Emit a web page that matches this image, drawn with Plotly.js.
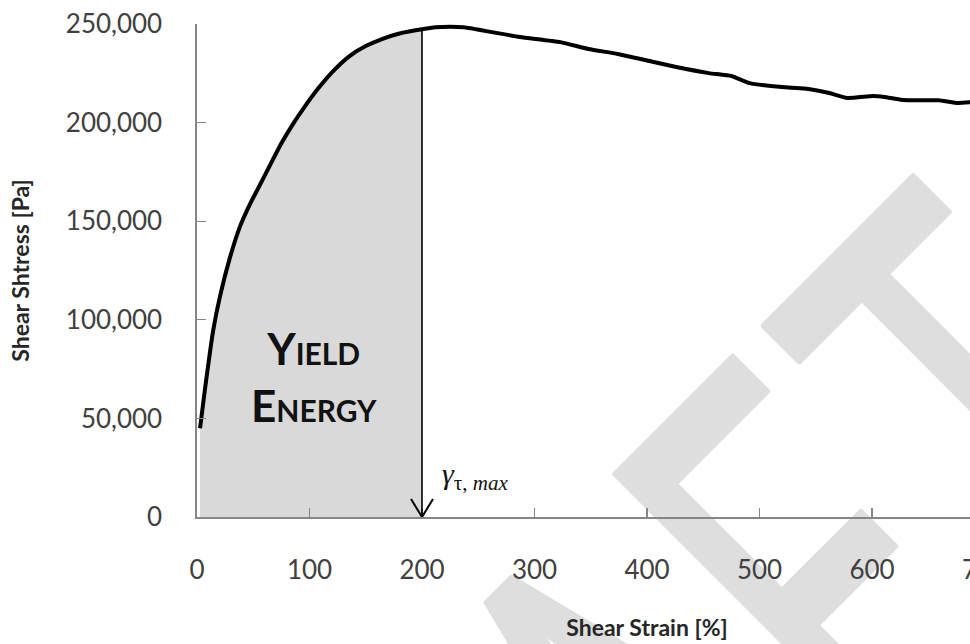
<!DOCTYPE html>
<html>
<head>
<meta charset="utf-8">
<script src="https://cdn.plot.ly/plotly-3.0.1.min.js"></script>
<style>
  html, body { margin: 0; padding: 0; background: #ffffff; overflow: hidden; }
  #wrap { position: relative; width: 970px; height: 644px; overflow: hidden; background: #ffffff; }
  #wm { position: absolute; left: 0; top: 0; }
  #chart { position: absolute; left: 0; top: 0; width: 1140px; height: 644px; }
</style>
</head>
<body>
<div id="wrap">
  <svg id="wm" width="970" height="644">
    <text id="wmText" font-family="Lato" font-size="380" fill="#dedede" text-anchor="end"
          stroke="#dedede" stroke-width="4" stroke-linejoin="round"
          transform="translate(1226,480) rotate(-45) scale(1,1.6)">DRAF<tspan dx="24">T</tspan></text>
  </svg>
  <div id="chart"></div>
</div>
<script>
// Shear strain [%] and shear stress [Pa] of the measured flow curve
const strain = [2.7, 7, 14.5, 20.5, 29, 38, 47, 56, 65, 75, 85, 95, 108, 120, 135, 150, 165, 180, 200,
  212, 225, 237, 261, 287, 323, 348, 374, 406, 426, 455, 475, 491, 520, 540, 562, 578, 601, 611, 627, 659, 675, 690];
const stress = [45000, 64500, 95000, 112000, 131000, 147000, 158500, 168500, 178500, 189500, 199000, 207500,
  217500, 225500, 233500, 238800, 242500, 245200, 247300, 248300, 248600, 248300, 246000, 243400, 240800,
  237300, 234800, 230700, 228200, 225100, 223600, 220000, 218000, 217300, 215000, 212500, 213500, 213000,
  211500, 211300, 210000, 210500];

// Strain at maximum shear stress (end of the yield-energy area)
const strainAtMax = 200;

const xTicks = [0, 100, 200, 300, 400, 500, 600, 700, 800];
const yTicks = [0, 50000, 100000, 150000, 200000, 250000];

// Portion of the curve up to the strain at maximum stress
const areaX = [], areaY = [];
strain.forEach((s, i) => { if (s <= strainAtMax) { areaX.push(s); areaY.push(stress[i]); } });
const stressAtMax = areaY[areaY.length - 1];

const axisGrey = '#868686';
const labelFont = { family: 'Lato, "Open Sans", sans-serif', size: 26, color: '#404040' };
const titleFont = { family: 'Lato, "Open Sans", sans-serif', size: 23, color: '#262626', weight: 700 };

const traces = [
  {
    x: areaX, y: areaY, type: 'scatter', mode: 'lines',
    fill: 'tozeroy', fillcolor: '#d9d9d9',
    line: { width: 0, color: '#d9d9d9', shape: 'spline', smoothing: 0.5 },
    hoverinfo: 'skip', showlegend: false
  },
  {
    x: strain, y: stress, type: 'scatter', mode: 'lines',
    line: { width: 4, color: '#000000', shape: 'spline', smoothing: 0.5 },
    showlegend: false
  }
];

const layout = {
  width: 1140, height: 644,
  margin: { l: 197, r: 43, t: 24, b: 127 },
  paper_bgcolor: 'rgba(0,0,0,0)',
  plot_bgcolor: 'rgba(0,0,0,0)',
  showlegend: false,
  xaxis: {
    range: [0, 800], tickvals: xTicks, ticktext: xTicks.map(String),
    ticks: 'inside', ticklen: 9, tickwidth: 1.3, tickcolor: axisGrey,
    showline: true, linecolor: axisGrey, linewidth: 1.6,
    showgrid: false, zeroline: false,
    tickfont: labelFont, ticklabelstandoff: 29,
    title: { text: 'Shear Strain [%]', font: titleFont, standoff: 36 },
    fixedrange: true
  },
  yaxis: {
    range: [0, 250000], tickvals: yTicks, tickformat: ',',
    ticks: 'inside', ticklen: 9, tickwidth: 1.3, tickcolor: axisGrey,
    showline: true, linecolor: axisGrey, linewidth: 1.6,
    showgrid: false, zeroline: false,
    tickfont: labelFont, ticklabelstandoff: 28,
    title: { text: 'Shear Shtress [Pa]', font: titleFont, standoff: 30 },
    fixedrange: true
  },
  shapes: [
    {
      type: 'line', xref: 'x', yref: 'y',
      x0: strainAtMax, x1: strainAtMax, y0: stressAtMax, y1: 0,
      line: { color: '#000000', width: 1.6 }
    },
    {
      type: 'path', xref: 'x', yref: 'y',
      xsizemode: 'pixel', ysizemode: 'pixel',
      xanchor: strainAtMax, yanchor: 0,
      path: 'M -11 18 L 0 0 L 11 18',
      line: { color: '#000000', width: 2 }
    }
  ],
  annotations: [
    {
      xref: 'x', yref: 'y', x: 104, y: 71500,
      text: 'Y<span style="font-size:30px">IELD</span><br>E<span style="font-size:30px">NERGY</span>',
      showarrow: false, align: 'center',
      font: { family: 'Lato, "Open Sans", sans-serif', size: 44, color: '#111111', weight: 700 }
    },
    {
      xref: 'x', yref: 'y', x: strainAtMax, y: 0,
      xanchor: 'left', yanchor: 'bottom', xshift: 18, yshift: 20,
      text: '<i>γ</i><sub>τ, <i>max</i></sub>',
      showarrow: false,
      font: { family: '"Liberation Serif", "DejaVu Serif", serif', size: 30, color: '#111111' }
    }
  ]
};

Plotly.newPlot('chart', traces, layout, { staticPlot: true, displayModeBar: false });
</script>
</body>
</html>
